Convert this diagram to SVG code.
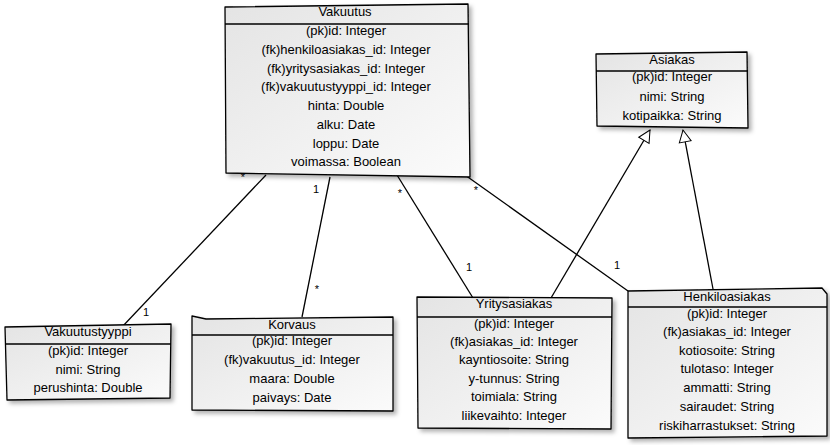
<svg xmlns="http://www.w3.org/2000/svg" width="830" height="445" viewBox="0 0 830 445">
<defs>
<linearGradient id="fillg" x1="0" y1="0" x2="1" y2="1">
<stop offset="0" stop-color="#e4e4e4"/>
<stop offset="1" stop-color="#fbfbfb"/>
</linearGradient>
<filter id="sh" x="-10%" y="-10%" width="125%" height="125%">
<feDropShadow dx="3" dy="3" stdDeviation="2" flood-color="#000" flood-opacity="0.3"/>
</filter>
<marker id="tri" viewBox="0 0 14 14" refX="13" refY="7" markerWidth="14" markerHeight="14" markerUnits="userSpaceOnUse" orient="auto">
<path d="M1,1 L13,7 L1,13 Z" fill="#fff" stroke="#000" stroke-width="1"/>
</marker>
</defs>
<style>
.box{fill:url(#fillg);stroke:#000;stroke-width:1.3;filter:url(#sh);stroke-linejoin:round}
.sep{stroke:#000;stroke-width:1.3;fill:none}
text{font-family:"Liberation Sans",Arial,sans-serif;font-size:13px;fill:#000;text-anchor:middle;dominant-baseline:middle}
.conn{stroke:#000;stroke-width:1.3;fill:none}
.lbl{font-size:11px;fill:#000}
</style>
<rect width="830" height="445" fill="#fff"/>

<g id="connectors">
<line class="conn" x1="266" y1="175" x2="122" y2="327"/>
<line class="conn" x1="330" y1="177" x2="302" y2="317"/>
<line class="conn" x1="397" y1="175" x2="473" y2="298"/>
<line class="conn" x1="465" y1="175" x2="628" y2="291"/>
<line class="conn" x1="551" y1="298" x2="650" y2="130" marker-end="url(#tri)"/>
<line class="conn" x1="713" y1="289" x2="683" y2="130" marker-end="url(#tri)"/>
<text class="lbl" x="243" y="178">*</text>
<text class="lbl" x="146" y="313">1</text>
<text class="lbl" x="316" y="190">1</text>
<text class="lbl" x="317" y="290">*</text>
<text class="lbl" x="400" y="194">*</text>
<text class="lbl" x="469" y="268">1</text>
<text class="lbl" x="476" y="191">*</text>
<text class="lbl" x="617" y="266">1</text>
</g>

<g id="vakuutus">
<polygon class="box" points="225,7 468,4 470,177 226,173"/>
<line class="sep" x1="225" y1="24" x2="469" y2="24"/>
<text x="345" y="13">Vakuutus</text>
<text x="346" y="32">(pk)id: Integer</text>
<text x="346" y="51">(fk)henkiloasiakas_id: Integer</text>
<text x="346" y="70">(fk)yritysasiakas_id: Integer</text>
<text x="346" y="88">(fk)vakuutustyyppi_id: Integer</text>
<text x="346" y="107">hinta: Double</text>
<text x="346" y="126">alku: Date</text>
<text x="346" y="145">loppu: Date</text>
<text x="346" y="163">voimassa: Boolean</text>
</g>

<g id="asiakas">
<polygon class="box" points="596,54 747,52 748,128 597,126"/>
<line class="sep" x1="596" y1="71" x2="748" y2="71"/>
<text x="672" y="61">Asiakas</text>
<text x="672" y="78">(pk)id: Integer</text>
<text x="672" y="98">nimi: String</text>
<text x="672" y="117">kotipaikka: String</text>
</g>

<g id="vakuutustyyppi">
<polygon class="box" points="5,327 171,324 170,398 7,400"/>
<line class="sep" x1="5" y1="344" x2="171" y2="344"/>
<text x="88" y="333">Vakuutustyyppi</text>
<text x="88" y="352">(pk)id: Integer</text>
<text x="88" y="371">nimi: String</text>
<text x="88" y="389">perushinta: Double</text>
</g>

<g id="korvaus">
<polygon class="box" points="192,316 206,319 393,317 393,411 192,410"/>
<line class="sep" x1="192" y1="335" x2="393" y2="335"/>
<text x="292" y="326">Korvaus</text>
<text x="292" y="342">(pk)id: Integer</text>
<text x="292" y="361">(fk)vakuutus_id: Integer</text>
<text x="292" y="380">maara: Double</text>
<text x="292" y="399">paivays: Date</text>
</g>

<g id="yritysasiakas">
<polygon class="box" points="417,297 612,298 611,429 418,428"/>
<line class="sep" x1="417" y1="317" x2="612" y2="317"/>
<text x="514" y="305">Yritysasiakas</text>
<text x="514" y="325">(pk)id: Integer</text>
<text x="514" y="343">(fk)asiakas_id: Integer</text>
<text x="514" y="361">kayntiosoite: String</text>
<text x="514" y="380">y-tunnus: String</text>
<text x="514" y="398">toimiala: String</text>
<text x="514" y="417">liikevaihto: Integer</text>
</g>

<g id="henkiloasiakas">
<polygon class="box" points="628,291 822,288 827,294 827,436 628,438"/>
<line class="sep" x1="628" y1="307" x2="827" y2="307"/>
<text x="727" y="298">Henkiloasiakas</text>
<text x="727" y="315">(pk)id: Integer</text>
<text x="727" y="333">(fk)asiakas_id: Integer</text>
<text x="727" y="352">kotiosoite: String</text>
<text x="727" y="370">tulotaso: Integer</text>
<text x="727" y="389">ammatti: String</text>
<text x="727" y="408">sairaudet: String</text>
<text x="727" y="427">riskiharrastukset: String</text>
</g>
</svg>
